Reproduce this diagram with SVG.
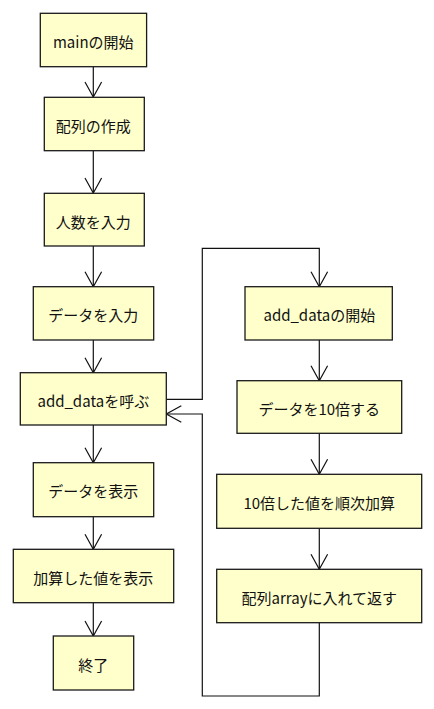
<svg xmlns="http://www.w3.org/2000/svg" width="434" height="709" viewBox="0 0 434 709">
<style>
.box{fill:#ffffcc;stroke:#1a1a1a;stroke-width:1.3}
.t{font-family:"Noto Sans CJK JP","Noto Sans",sans-serif;font-size:15px;fill:#111;text-anchor:middle;dominant-baseline:central}
.c{fill:none;stroke:#111;stroke-width:1.2}
</style>
<defs>
<marker id="ah" markerUnits="userSpaceOnUse" markerWidth="20" markerHeight="20" viewBox="-16 -10 20 20" refX="0" refY="0" orient="auto" overflow="visible">
<path d="M-15,-8.3 L0,0 L-15,8.3" fill="none" stroke="#111" stroke-width="1.2"/>
</marker>
</defs>
<rect width="434" height="709" fill="#fff"/>
<g id="connectors">
<line class="c" x1="93.3" y1="66.7" x2="93.3" y2="97" marker-end="url(#ah)"/>
<line class="c" x1="93.3" y1="150.7" x2="93.3" y2="193" marker-end="url(#ah)"/>
<line class="c" x1="93.3" y1="246" x2="93.3" y2="286.7" marker-end="url(#ah)"/>
<line class="c" x1="93.3" y1="340" x2="93.3" y2="372.7" marker-end="url(#ah)"/>
<line class="c" x1="93.3" y1="425" x2="93.3" y2="462.7" marker-end="url(#ah)"/>
<line class="c" x1="93.3" y1="516.7" x2="93.3" y2="549.3" marker-end="url(#ah)"/>
<line class="c" x1="93.3" y1="602.7" x2="93.3" y2="636" marker-end="url(#ah)"/>
<polyline class="c" points="166.3,399.3 202.3,399.3 202.3,248.3 319.3,248.3 319.3,286.7" marker-end="url(#ah)"/>
<line class="c" x1="319.3" y1="340" x2="319.3" y2="380.7" marker-end="url(#ah)"/>
<line class="c" x1="319.3" y1="433.3" x2="319.3" y2="474.3" marker-end="url(#ah)"/>
<line class="c" x1="319.3" y1="528.3" x2="319.3" y2="569.3" marker-end="url(#ah)"/>
<polyline class="c" points="319.3,622.7 319.3,696 202.3,696 202.3,414 166.3,414" marker-end="url(#ah)"/>
</g>
<g id="n1"><rect class="box" x="40.3" y="13.3" width="106.3" height="53.4"/><text class="t" x="93.3" y="41">mainの開始</text></g>
<g id="n2"><rect class="box" x="44.3" y="97.3" width="100" height="53.4"/><text class="t" x="93.3" y="125">配列の作成</text></g>
<g id="n3"><rect class="box" x="44.3" y="193.3" width="100" height="52.7"/><text class="t" x="93.3" y="221">人数を入力</text></g>
<g id="n4"><rect class="box" x="33.3" y="286.7" width="120.4" height="53.3"/><text class="t" x="93.3" y="314">データを入力</text></g>
<g id="n5"><rect class="box" x="20.3" y="372.7" width="146" height="52.3"/><text class="t" x="93.3" y="400">add_dataを呼ぶ</text></g>
<g id="n6"><rect class="box" x="33.3" y="462.7" width="120.4" height="54"/><text class="t" x="93.3" y="490">データを表示</text></g>
<g id="n7"><rect class="box" x="13.3" y="549.3" width="160.4" height="53.4"/><text class="t" x="93.3" y="577">加算した値を表示</text></g>
<g id="n8"><rect class="box" x="53.3" y="636" width="80.4" height="54"/><text class="t" x="93.3" y="664">終了</text></g>
<g id="n9"><rect class="box" x="245" y="286.7" width="147.3" height="53.3"/><text class="t" x="319.3" y="314">add_dataの開始</text></g>
<g id="n10"><rect class="box" x="237" y="380.7" width="164.7" height="52.6"/><text class="t" x="319.3" y="408">データを10倍する</text></g>
<g id="n11"><rect class="box" x="216.7" y="474.3" width="205" height="54"/><text class="t" x="319.3" y="502">10倍した値を順次加算</text></g>
<g id="n12"><rect class="box" x="216.7" y="569.3" width="205" height="53.4"/><text class="t" x="319.3" y="597">配列arrayに入れて返す</text></g>
</svg>
